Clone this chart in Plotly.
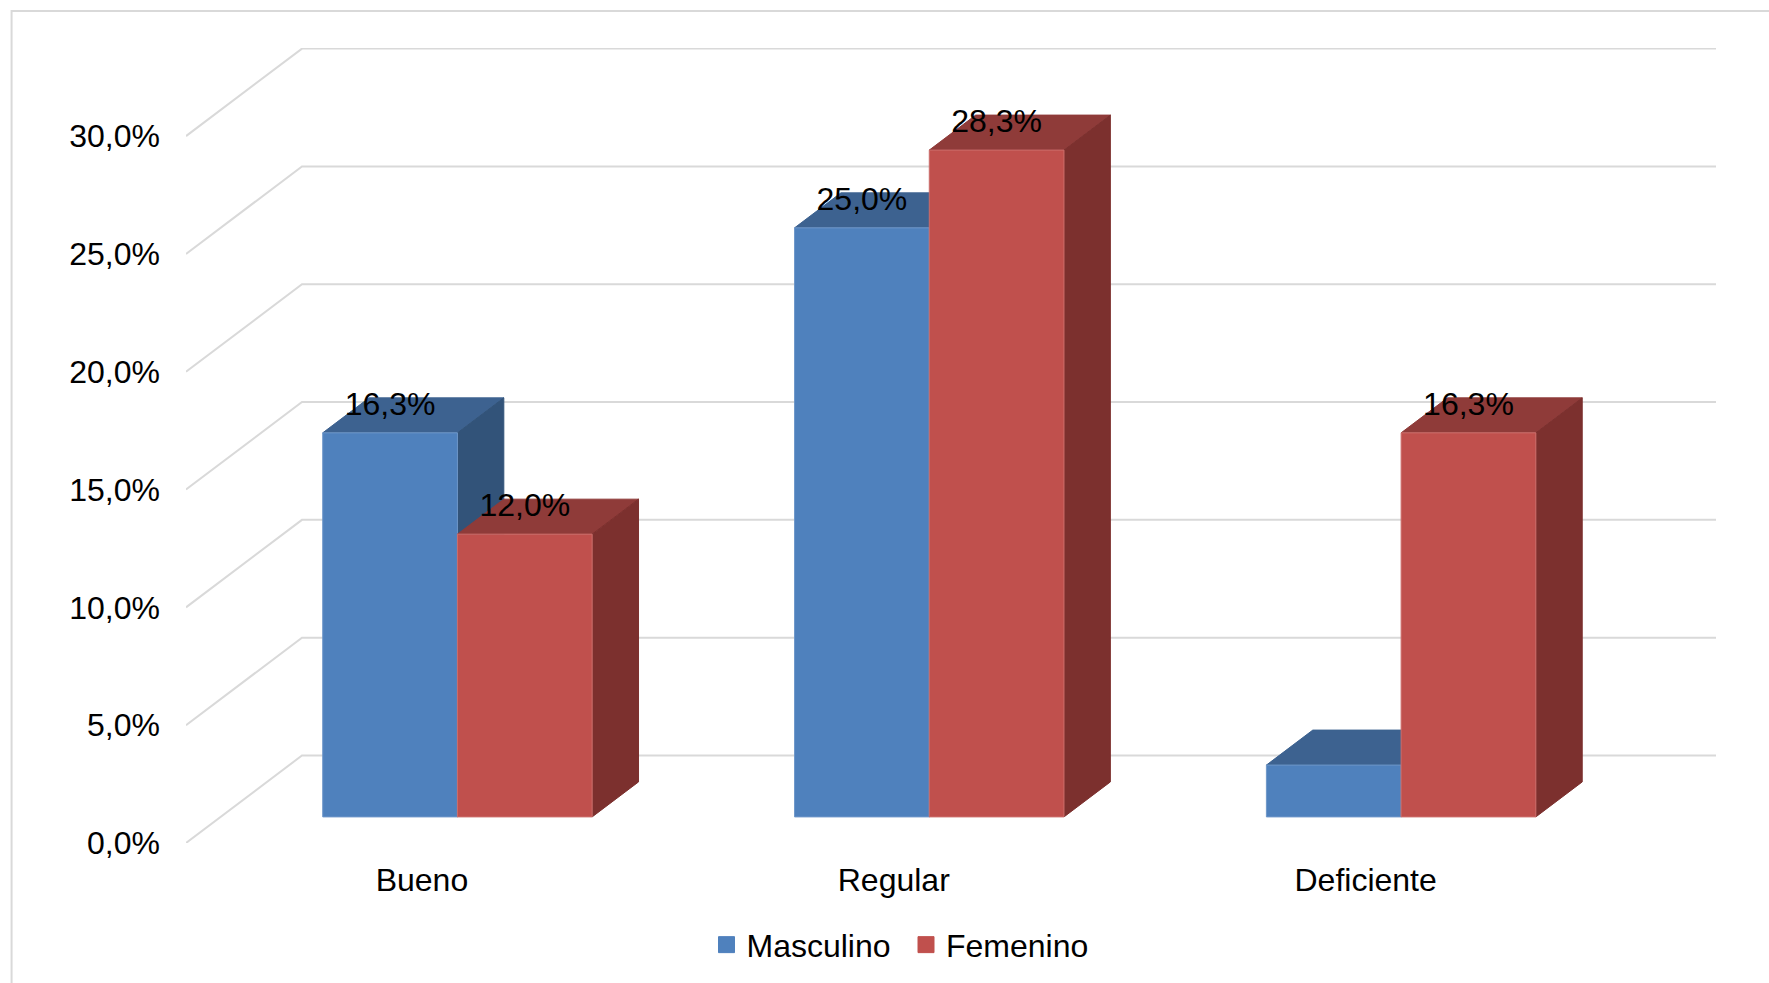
import plotly.graph_objects as go

# Survey results by rating and sex (percent)
categories = ["Bueno", "Regular", "Deficiente"]
masculino = [16.3, 25.0, 2.2]
femenino = [12.0, 28.3, 16.3]
labelled_masculino = [True, True, False]
labelled_femenino = [True, True, True]
y_ticks = [0, 5, 10, 15, 20, 25, 30]

# Oblique projection, in axis units: how far a point at depth 1 is shifted
WALL_DX = 0.2458
WALL_DY = 3.714
BAR_DEPTH_FRONT = 0.298
BAR_DEPTH_BACK = 0.698
BAR_WIDTH = 0.2855
BAR_SHIFT = 0.002
LABEL_LIFT = 1.1

X_START = -0.5
X_END = 2.7426
Y_END = 33.74

FONT = "Liberation Sans"
FONT_SIZE = 32
GRID = "#D9D9D9"


def project(x, y, depth):
    return x + depth * WALL_DX, y + depth * WALL_DY


def polygons(faces):
    """Join closed faces into one x/y pair, separated by gaps."""
    xs, ys = [], []
    for face in faces:
        for point in face + [face[0]]:
            xs.append(point[0])
            ys.append(point[1])
        xs.append(None)
        ys.append(None)
    return xs, ys


def bar_faces(index, offset, value):
    """Front, top and side quads of one box standing on the floor."""
    left = index + offset
    right = left + BAR_WIDTH
    d0, d1 = BAR_DEPTH_FRONT, BAR_DEPTH_BACK
    front = [project(left, 0, d0), project(right, 0, d0),
             project(right, value, d0), project(left, value, d0)]
    top = [project(left, value, d0), project(right, value, d0),
           project(right, value, d1), project(left, value, d1)]
    side = [project(right, 0, d0), project(right, 0, d1),
            project(right, value, d1), project(right, value, d0)]
    return front, top, side


def add_face_trace(fig, faces, color, edge):
    xs, ys = polygons(faces)
    fig.add_trace(go.Scatter(
        x=xs, y=ys, mode="lines", fill="toself", fillcolor=color,
        line=dict(color=edge, width=1), showlegend=False,
        hoverinfo="skip", cliponaxis=False,
    ))


fig = go.Figure()

# Floor edge and back wall rules for every tick
grid_x, grid_y = [], []
for tick in y_ticks:
    corner_x, corner_y = project(X_START, tick, 1)
    grid_x += [X_START, corner_x, X_END, None]
    grid_y += [tick, corner_y, corner_y, None]
fig.add_trace(go.Scatter(
    x=grid_x, y=grid_y, mode="lines", line=dict(color=GRID, width=2),
    showlegend=False, hoverinfo="skip", cliponaxis=False,
))

series = [
    ("Masculino", masculino, BAR_SHIFT - BAR_WIDTH, labelled_masculino,
     "#4F81BD", "#3D6290", "#325379", "#6E97C9"),
    ("Femenino", femenino, BAR_SHIFT, labelled_femenino,
     "#C0504D", "#8F3B39", "#7C302E", "#CC6E6B"),
]

label_x, label_y, label_text = [], [], []
for name, values, offset, labelled, front_c, top_c, side_c, edge_c in series:
    boxes = [bar_faces(i, offset, v) for i, v in enumerate(values)]
    add_face_trace(fig, [b[1] for b in boxes], top_c, top_c)
    add_face_trace(fig, [b[2] for b in boxes], side_c, side_c)
    add_face_trace(fig, [b[0] for b in boxes], front_c, edge_c)
    fig.add_trace(go.Scatter(
        x=[None], y=[None], mode="markers", name=name,
        marker=dict(symbol="square", size=16, color=front_c,
                    line=dict(color=front_c, width=1)),
    ))
    for i, v in enumerate(values):
        if labelled[i]:
            px, py = project(i + offset + BAR_WIDTH / 2, v, BAR_DEPTH_FRONT)
            label_x.append(px)
            label_y.append(py + LABEL_LIFT)
            label_text.append(f"{v:.1f}".replace(".", ",") + "%")

fig.add_trace(go.Scatter(
    x=label_x, y=label_y, text=label_text, mode="text",
    textposition="middle center",
    textfont=dict(family=FONT, size=FONT_SIZE, color="#000000"),
    showlegend=False, hoverinfo="skip", cliponaxis=False,
))

fig.update_layout(
    width=1769, height=983,
    margin=dict(l=186, r=53, t=48, b=140, autoexpand=False),
    paper_bgcolor="#FFFFFF", plot_bgcolor="rgba(0,0,0,0)",
    font=dict(family=FONT, size=FONT_SIZE, color="#000000"),
    separators=",.",
    legend=dict(
        orientation="h", x=0.3402, xanchor="left", y=-0.0935, yanchor="top",
        font=dict(family=FONT, size=FONT_SIZE, color="#000000"),
        bgcolor="rgba(0,0,0,0)", entrywidth=154.5, entrywidthmode="pixels",
        itemclick=False, itemdoubleclick=False,
    ),
    shapes=[dict(
        type="path", xref="paper", yref="paper",
        path="M -0.114,-0.2 L -0.114,1.0465 L 1.04,1.0465",
        line=dict(color=GRID, width=2),
    )],
)
fig.update_xaxes(
    range=[X_START, X_END], tickmode="array",
    tickvals=list(range(len(categories))), ticktext=categories,
    showgrid=False, zeroline=False, showline=False, ticks="",
    ticklabelstandoff=15, tickfont=dict(family=FONT, size=FONT_SIZE),
)
fig.update_yaxes(
    range=[0, Y_END], tickmode="linear", tick0=y_ticks[0],
    dtick=y_ticks[1] - y_ticks[0],
    tickformat=".1f", ticksuffix="%",
    showgrid=False, zeroline=False, showline=False, ticks="",
    ticklabelstandoff=25, tickfont=dict(family=FONT, size=FONT_SIZE),
)

fig.write_html("out.html", config={"displayModeBar": False})
